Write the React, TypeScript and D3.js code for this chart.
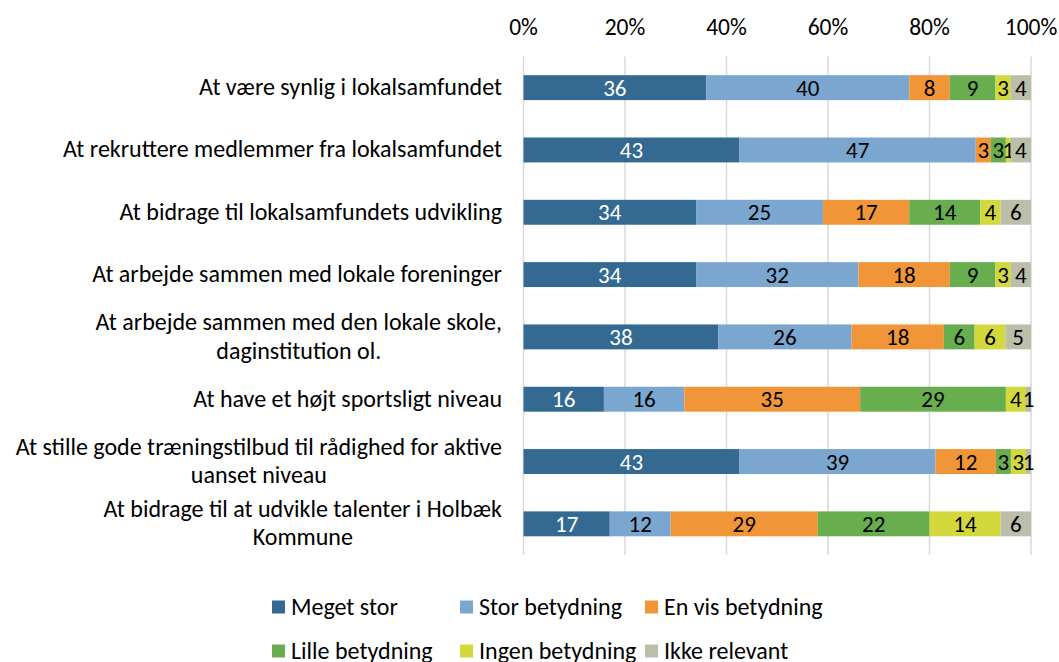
import React, { useEffect, useRef } from "react";
import * as d3 from "d3";

const categories: string[][] = [
  ["At være synlig i lokalsamfundet"],
  ["At rekruttere medlemmer fra lokalsamfundet"],
  ["At bidrage til lokalsamfundets udvikling"],
  ["At arbejde sammen med lokale foreninger"],
  ["At arbejde sammen med den lokale skole,", "daginstitution ol."],
  ["At have et højt sportsligt niveau"],
  ["At stille gode træningstilbud til rådighed for aktive", "uanset niveau"],
  ["At bidrage til at udvikle talenter i Holbæk", "Kommune"],
];

const seriesNames = [
  "Meget stor",
  "Stor betydning",
  "En vis betydning",
  "Lille betydning",
  "Ingen betydning",
  "Ikke relevant",
];

const meget = [36, 43, 34, 34, 38, 16, 43, 17];
const stor = [40, 47, 25, 32, 26, 16, 39, 12];
const enVis = [8, 3, 17, 18, 18, 35, 12, 29];
const lille = [9, 3, 14, 9, 6, 29, 3, 22];
const ingen = [3, 1, 4, 3, 6, 4, 3, 14];
const ikke = [4, 4, 6, 4, 5, 1, 1, 6];

const tickValues = [0, 0.2, 0.4, 0.6, 0.8, 1];

const colors = ["#346a91", "#7aa6cf", "#f09638", "#68ad4e", "#d3d93c", "#bbbea9"];
const labelColors = ["#ffffff", "#000000", "#000000", "#000000", "#000000", "#000000"];

const FONT = "Carlito, Lato, 'Open Sans', sans-serif";

export default function App() {
  const ref = useRef<SVGSVGElement>(null);

  useEffect(() => {
    const svg = d3.select(ref.current);
    svg.selectAll("*").remove();

    const left = 523.5;
    const right = 1031;
    const top = 56.5;
    const bottom = 555;

    const x = d3.scaleLinear().domain([0, 1]).range([left, right]);
    const y = d3
      .scaleBand<number>()
      .domain(d3.range(categories.length))
      .range([top, bottom])
      .paddingInner(0.6)
      .paddingOuter(0.3);

    const series = [meget, stor, enVis, lille, ingen, ikke];
    const stackData = categories.map((_, i) => {
      const o: any = { i };
      series.forEach((s, k) => (o["s" + k] = s[i]));
      return o;
    });
    const stack = d3
      .stack<any>()
      .keys(seriesNames.map((_, k) => "s" + k))
      .offset(d3.stackOffsetExpand);
    const stacked = stack(stackData);

    // gridlines
    svg
      .append("g")
      .selectAll("line")
      .data(tickValues)
      .join("line")
      .attr("x1", (d) => x(d))
      .attr("x2", (d) => x(d))
      .attr("y1", top)
      .attr("y2", bottom)
      .attr("stroke", "#d9d9d9")
      .attr("stroke-width", 1.5);

    // tick labels
    svg
      .append("g")
      .selectAll("text")
      .data(tickValues)
      .join("text")
      .attr("x", (d) => x(d))
      .attr("y", 35)
      .attr("text-anchor", "middle")
      .attr("font-family", FONT)
      .attr("font-size", 23.5)
      .attr("fill", "#000")
      .text((d) => d3.format(".0%")(d));

    // bars
    stacked.forEach((layer, k) => {
      const g = svg.append("g");
      g.selectAll("rect")
        .data(layer)
        .join("rect")
        .attr("x", (d) => x(d[0]))
        .attr("width", (d) => x(d[1]) - x(d[0]))
        .attr("y", (_, i) => y(i)!)
        .attr("height", y.bandwidth())
        .attr("fill", colors[k]);
      g.selectAll("text")
        .data(layer)
        .join("text")
        .attr("x", (d) => (x(d[0]) + x(d[1])) / 2)
        .attr("y", (_, i) => y(i)! + y.bandwidth() / 2)
        .attr("dy", "0.35em")
        .attr("text-anchor", "middle")
        .attr("font-family", FONT)
        .attr("font-size", 23)
        .attr("fill", labelColors[k])
        .text((_, i) => series[k][i]);
    });

    // category labels
    const labelRight = 502;
    const lineH = 28.5;
    categories.forEach((lines, i) => {
      const cy = y(i)! + y.bandwidth() / 2;
      const t = svg
        .append("text")
        .attr("font-family", FONT)
        .attr("font-size", 24)
        .attr("fill", "#000");
      const tspans = lines.map((line, j) =>
        t
          .append("tspan")
          .attr("y", cy + (j - (lines.length - 1) / 2) * lineH - 1)
          .attr("dy", "0.35em")
          .text(line)
      );
      const widths = tspans.map((ts) => (ts.node() as SVGTSpanElement).getComputedTextLength());
      const maxW = Math.max(...widths);
      const cx = labelRight - maxW / 2;
      tspans.forEach((ts) => ts.attr("x", cx).attr("text-anchor", "middle"));
    });

    // legend
    const legendItems = [
      { k: 0, x: 272, y: 607 },
      { k: 1, x: 460, y: 607 },
      { k: 2, x: 645, y: 607 },
      { k: 3, x: 272, y: 651 },
      { k: 4, x: 460, y: 651 },
      { k: 5, x: 645, y: 651 },
    ];
    const lg = svg.append("g");
    legendItems.forEach((it) => {
      lg.append("rect")
        .attr("x", it.x)
        .attr("y", it.y - 6.5)
        .attr("width", 13)
        .attr("height", 13)
        .attr("fill", colors[it.k]);
      lg.append("text")
        .attr("x", it.x + 19)
        .attr("y", it.y)
        .attr("dy", "0.35em")
        .attr("font-family", FONT)
        .attr("font-size", 24)
        .attr("fill", "#000")
        .text(seriesNames[it.k]);
    });
  }, []);

  return (
    <svg
      ref={ref}
      width={1059}
      height={662}
      style={{ position: "absolute", left: 0, top: 0, background: "#fff" }}
    />
  );
}
